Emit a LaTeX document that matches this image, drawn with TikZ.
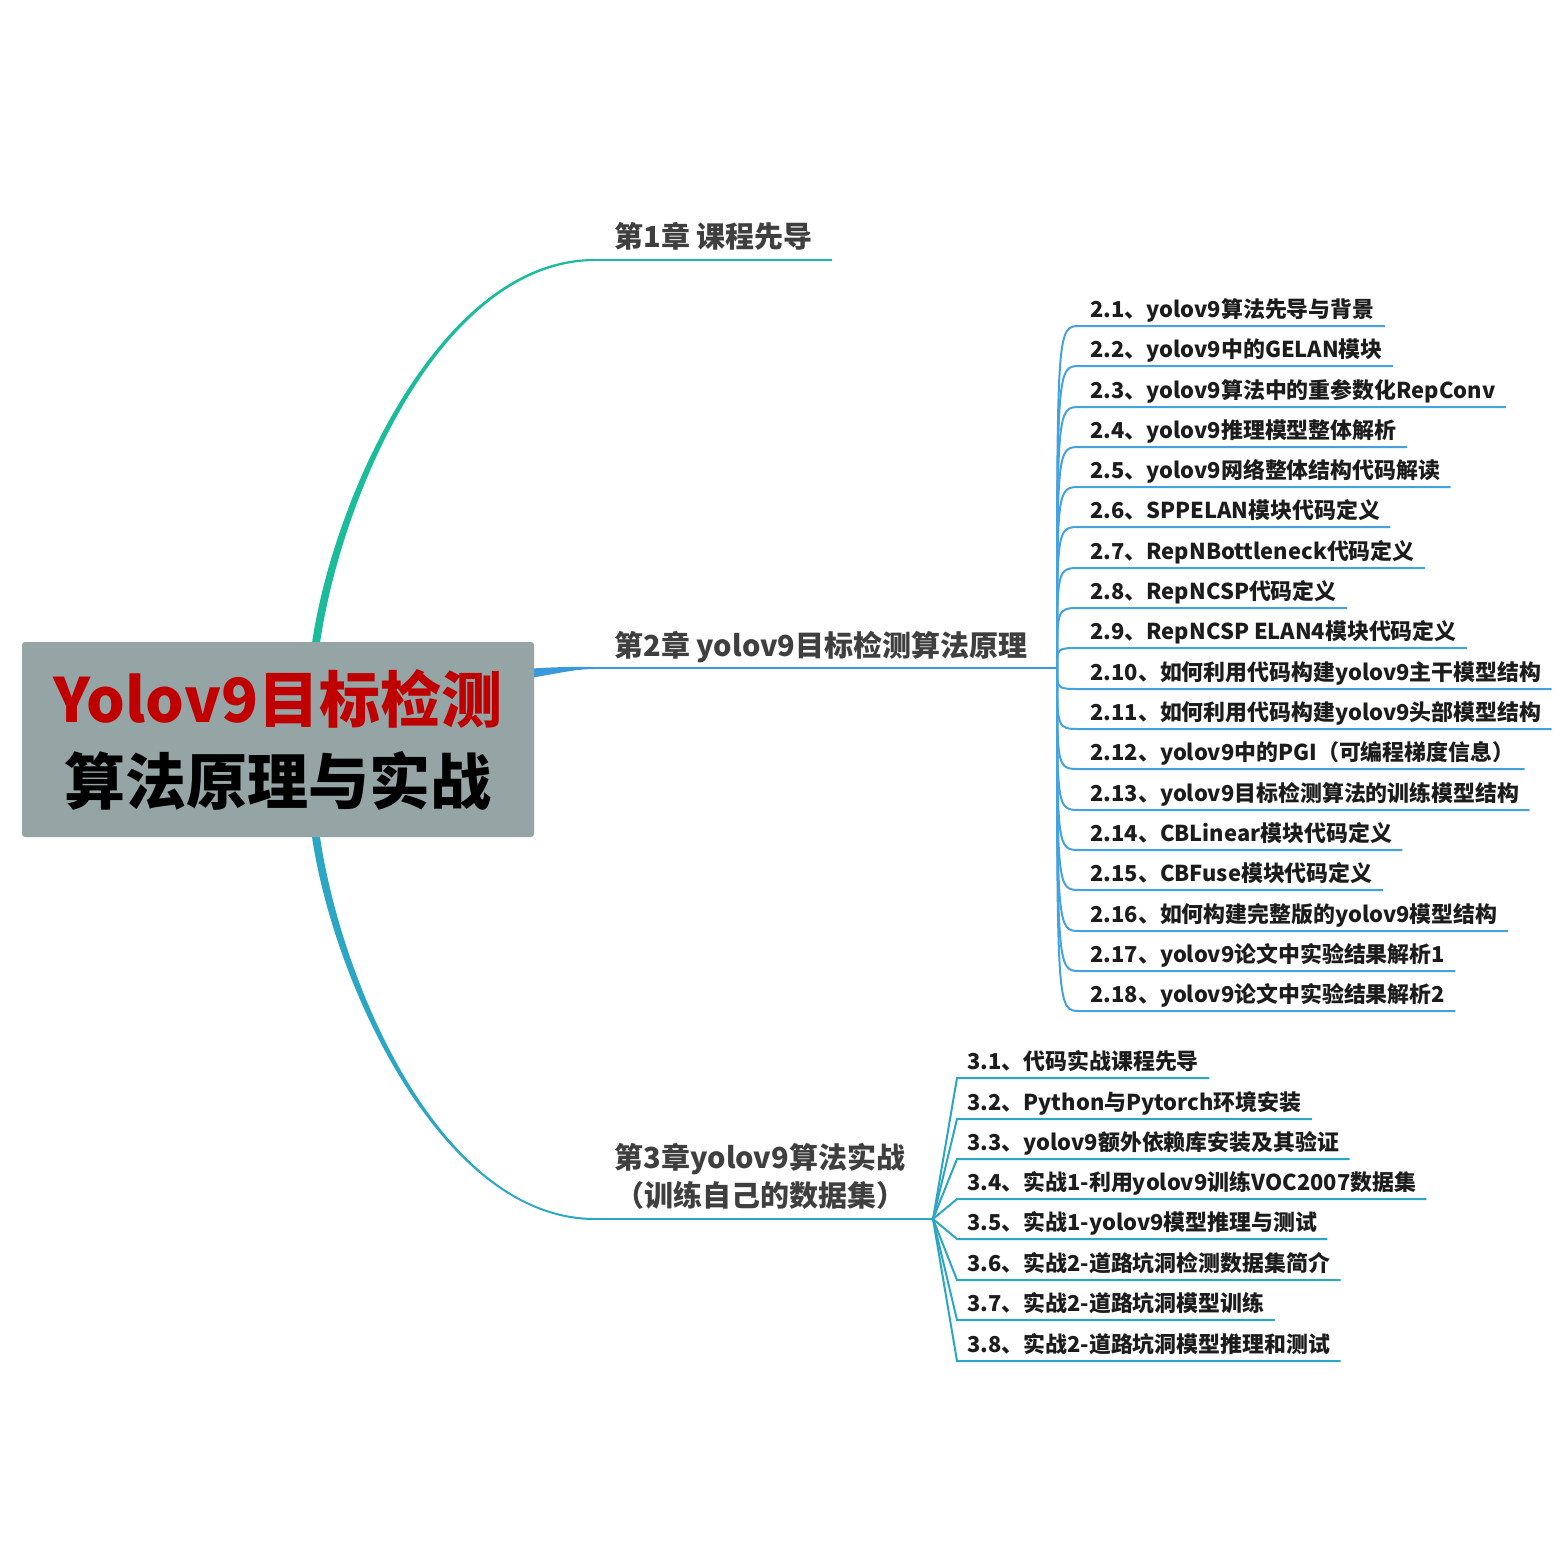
\documentclass[tikz,border=0pt]{standalone}
\usepackage{fontspec}
\setmainfont{Noto Sans CJK SC}
\usetikzlibrary{calc}
\definecolor{rootgray}{HTML}{95A5A6}
\definecolor{rootred}{HTML}{C00000}
\definecolor{tealone}{HTML}{1ABC9C}
\definecolor{bluetwo}{HTML}{3A99DB}
\definecolor{bluetwol}{HTML}{45A2E0}
\definecolor{cyanthree}{HTML}{2CA6C5}
\definecolor{chtext}{HTML}{3F3F3F}
\definecolor{leaftext}{HTML}{1C1C1C}
\tikzset{
  rootbox/.style={fill=rootgray, rounded corners=1.5pt, minimum width=256pt, minimum height=97.5pt,
    align=center, inner sep=0pt, font=\fontsize{30.5}{41}\selectfont\bfseries},
  chap/.style={text=chtext, font=\fontsize{14.5}{19}\selectfont\bfseries, inner xsep=9.5pt, inner ysep=0pt},
  leaf/.style={text=leaftext, font=\fontsize{10.95}{13}\selectfont\bfseries, inner xsep=5pt, inner ysep=0pt, anchor=base west},
  ltwo/.style={draw=bluetwol, line width=1pt},
  lthree/.style={draw=cyanthree, line width=1pt},
}
\begin{document}
\begin{tikzpicture}[x=0.5pt,y=-0.5pt]
\fill[white] (0,0) rectangle (1568,1568);
\useasboundingbox (0,0) rectangle (1568,1568);

% chapter nodes
\node[chap, anchor=base west] (c1) at (595,247) {第1章 课程先导};
\node[chap, anchor=base west] (c2) at (595,656) {第2章 yolov9目标检测算法原理};
\node[chap, align=center] (c3) at (760,1176) {第3章yolov9算法实战\\（训练自己的数据集）};

\coordinate (c1s) at (595,260);
\coordinate (c1e) at ($(c1.base east)+(0,13)$);
\coordinate (c2s) at (595,668);
\coordinate (h2) at (1057,668);
\coordinate (c3s) at (595,1219);
\coordinate (h3) at (933,1219);

% main branches (tapered)
\fill[tealone] (311,650) .. controls (331,500) and (440,258) .. (595,259)
  -- (595,261) .. controls (440,262) and (339,500) .. (319,650) -- cycle;
\fill[bluetwo] (525,669) .. controls (560,666.5) and (575,667) .. (595,667)
  -- (595,669) .. controls (575,669) and (560,673) .. (525,679) -- cycle;
\fill[cyanthree] (311,830) .. controls (331,979) and (440,1220) .. (595,1220)
  -- (595,1218) .. controls (440,1218) and (339,979) .. (319,830) -- cycle;

\draw[tealone, line width=1pt] (c1s) -- (c1e);
\draw[bluetwo, line width=1pt] (c2s) -- (h2);
\draw[cyanthree, line width=1pt] (c3s) -- (h3);

% root
\node[rootbox] (root) at (278,739.5) {\textcolor{rootred}{Yolov9目标检测}\\算法原理与实战};

% chapter 2 leaves
\foreach \n/\u/\t in {
  1/326/{2.1、yolov9算法先导与背景},
  2/366/{2.2、yolov9中的GELAN模块},
  3/407/{2.3、yolov9算法中的重参数化RepConv},
  4/447/{2.4、yolov9推理模型整体解析},
  5/487/{2.5、yolov9网络整体结构代码解读},
  6/527/{2.6、SPPELAN模块代码定义},
  7/568/{2.7、RepNBottleneck代码定义},
  8/608/{2.8、RepNCSP代码定义},
  9/648/{2.9、RepNCSP ELAN4模块代码定义},
  10/689/{2.10、如何利用代码构建yolov9主干模型结构},
  11/729/{2.11、如何利用代码构建yolov9头部模型结构},
  12/769/{2.12、yolov9中的PGI（可编程梯度信息）},
  13/810/{2.13、yolov9目标检测算法的训练模型结构},
  14/850/{2.14、CBLinear模块代码定义},
  15/890/{2.15、CBFuse模块代码定义},
  16/931/{2.16、如何构建完整版的yolov9模型结构},
  17/971/{2.17、yolov9论文中实验结果解析1},
  18/1011/{2.18、yolov9论文中实验结果解析2}} {
  \node[leaf] (ltwo\n) at (1080,\u-9) {\t};
  \coordinate (atwo\n) at (1080,\u);
  \coordinate (btwo\n) at ($(ltwo\n.base east)+(0,9)$);
  \draw[ltwo] (h2) .. controls (h2 |- atwo\n) .. (atwo\n) -- (btwo\n);
}

% chapter 3 leaves
\foreach \n/\u/\t in {
  1/1078/{3.1、代码实战课程先导},
  2/1119/{3.2、Python与Pytorch环境安装},
  3/1159/{3.3、yolov9额外依赖库安装及其验证},
  4/1199/{3.4、实战1-利用yolov9训练VOC2007数据集},
  5/1239/{3.5、实战1-yolov9模型推理与测试},
  6/1280/{3.6、实战2-道路坑洞检测数据集简介},
  7/1320/{3.7、实战2-道路坑洞模型训练},
  8/1361/{3.8、实战2-道路坑洞模型推理和测试}} {
  \node[leaf] (lthree\n) at (957,\u-9) {\t};
  \coordinate (athree\n) at (957,\u);
  \coordinate (bthree\n) at ($(lthree\n.base east)+(0,9)$);
  \draw[lthree] (h3) -- (athree\n) -- (bthree\n);
}
\end{tikzpicture}
\end{document}
